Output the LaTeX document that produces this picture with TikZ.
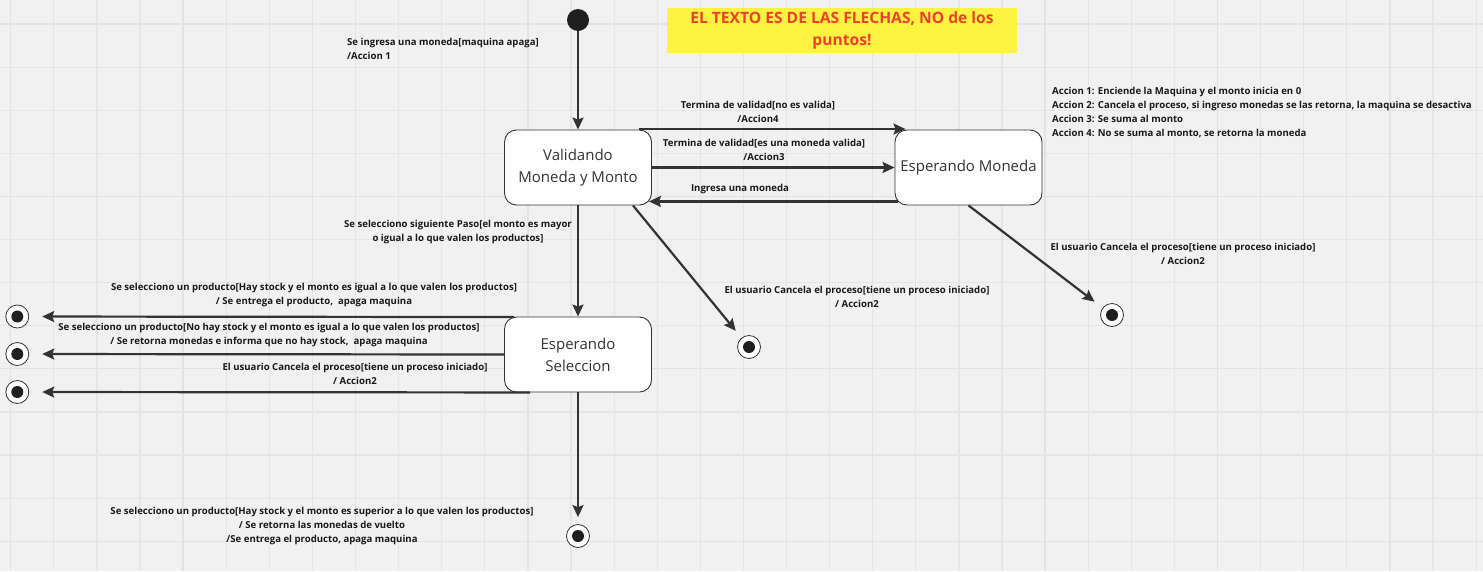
\documentclass[tikz,border=0pt]{standalone}
\usepackage{fontspec}
\setmainfont{Open Sans}
\usetikzlibrary{arrows.meta}
\definecolor{fondo}{RGB}{241,241,241}
\definecolor{rejilla}{RGB}{229,229,229}
\definecolor{tinta}{RGB}{51,51,51}
\definecolor{amarillo}{RGB}{255,243,66}
\definecolor{rojo}{RGB}{234,67,42}
\tikzset{
	state/.style={draw=tinta, fill=white, line width=0.9pt, rounded corners=12pt, minimum width=147pt, minimum height=75pt, align=center, inner sep=0pt, font=\fontsize{15}{22}\selectfont, text=black!80},
	startdot/.style={circle, fill=black!88, minimum size=22pt, inner sep=0pt},
	enddot/.style={circle, draw=tinta, fill=white, line width=0.8pt, minimum size=23pt, inner sep=0pt, path picture={\fill[black!88] (path picture bounding box.center) circle (6pt);}},
	flecha/.style={draw=tinta, line width=2.2pt, -{Stealth[length=12pt,width=11pt,inset=2pt]}},
	etiqueta/.style={align=center, inner sep=0pt, text=black!90, font=\fontsize{9.6}{14}\selectfont\bfseries},
	aviso/.style={fill=amarillo, minimum width=350pt, minimum height=45pt, align=center, inner sep=0pt, text=rojo, font=\fontsize{15.6}{22}\selectfont\bfseries}
}
\begin{document}
\begin{tikzpicture}[x=1pt, y=-1pt]
		%%%%% START %%%%%
		
		\fill[fondo] (0, 0) rectangle (1483, 571);
		\useasboundingbox (0, 0) rectangle (1483, 571);
		\foreach \i in {0,...,34} \draw[rejilla, line width=1.2pt] ({10.7+43.1*\i}, 0) -- ({10.7+43.1*\i}, 571);
		\foreach \j in {0,...,13} \draw[rejilla, line width=1.2pt] (0, {24+43.1*\j}) -- (1483, {24+43.1*\j});
		\foreach \i in {0,...,8} \draw[black!11, line width=1.3pt] ({10.7+172.4*\i}, 0) -- ({10.7+172.4*\i}, 571);
		\foreach \j in {0,...,3} \draw[black!11, line width=1.3pt] (0, {24+172.4*\j}) -- (1483, {24+172.4*\j});
		
		\node[aviso] (aviso) at (842, 30) {EL TEXTO ES DE LAS FLECHAS, NO de los\\puntos!};
		
		\node[startdot] (ini) at (578, 20) {};
		\node[state] (valid) at (578, 167.5) {Validando\\Moneda y Monto};
		\node[state] (espmon) at (968.5, 167.5) {Esperando Moneda};
		\node[state] (espsel) at (578, 354.5) {Esperando\\Seleccion};
		
		\node[enddot] (fin1) at (17.3, 316.5) {};
		\node[enddot] (fin2) at (17.3, 354) {};
		\node[enddot] (fin3) at (17.3, 392) {};
		\node[enddot] (fin4) at (749, 347) {};
		\node[enddot] (fin5) at (1112, 315) {};
		\node[enddot] (fin6) at (578, 536) {};
		
		\draw[flecha] (ini) -- (valid);
		\draw[flecha] ([xshift=61pt, yshift=0.5pt]valid.north) -- ([xshift=-63pt, yshift=0.5pt]espmon.north);
		\draw[flecha] (valid) -- (espmon);
		\draw[flecha] ([xshift=-71pt, yshift=4pt]espmon.south) -- ([xshift=-3pt, yshift=4pt]valid.south east);
		\draw[flecha] (valid) -- (espsel);
		\draw[flecha, shorten >=9pt] ([xshift=55pt]valid.south) -- (fin4);
		\draw[flecha, shorten >=10pt] (espmon.south) -- (fin5);
		\draw[flecha, shorten >=13pt] ([xshift=-64pt, yshift=-0.5pt]espsel.north) -- (fin1);
		\draw[flecha, shorten >=13pt] (espsel.west) -- (fin2);
		\draw[flecha, shorten >=13pt] ([xshift=-48pt]espsel.south) -- (fin3);
		\draw[flecha, shorten >=7pt] (espsel) -- (fin6);
		
		\node[etiqueta, align=left, anchor=west] (l1) at (347, 49) {Se ingresa una moneda[maquina apaga]\\/Accion 1};
		\node[etiqueta] (l2) at (758, 112) {Termina de validad[no es valida]\\/Accion4};
		\node[etiqueta] (l3) at (764, 150) {Termina de validad[es una moneda valida]\\/Accion3};
		\node[etiqueta] (l4) at (740, 189) {Ingresa una moneda};
		\node[etiqueta] (l5) at (458, 232) {Se selecciono siguiente Paso[el monto es mayor\\o igual a lo que valen los productos]};
		\node[etiqueta] (l6) at (857, 297) {El usuario Cancela el proceso[tiene un proceso iniciado]\\/ Accion2};
		\node[etiqueta] (l7) at (1183, 254) {El usuario Cancela el proceso[tiene un proceso iniciado]\\/ Accion2};
		\node[etiqueta] (l8) at (314, 295) {Se selecciono un producto[Hay stock y el monto es igual a lo que valen los productos]\\/ Se entrega el producto,\ \ apaga maquina};
		\node[etiqueta] (l9) at (269, 334.5) {Se selecciono un producto[No hay stock y el monto es igual a lo que valen los productos]\\/ Se retorna monedas e informa que no hay stock,\ \ apaga maquina};
		\node[etiqueta] (l10) at (355, 374) {El usuario Cancela el proceso[tiene un proceso iniciado]\\/ Accion2};
		\node[etiqueta] (l11) at (322, 526) {Se selecciono un producto[Hay stock y el monto es superior a lo que valen los productos]\\/ Se retorna las monedas de vuelto\\/Se entrega el producto, apaga maquina};
		
		\node[etiqueta, align=left, anchor=west] (leyenda) at (1052, 112) {Accion 1: Enciende la Maquina y el monto inicia en 0\\Accion 2: Cancela el proceso, si ingreso monedas se las retorna, la maquina se desactiva\\Accion 3: Se suma al monto\\Accion 4: No se suma al monto, se retorna la moneda};
		
		%%%%% END %%%%%
	\end{tikzpicture}
\end{document}
